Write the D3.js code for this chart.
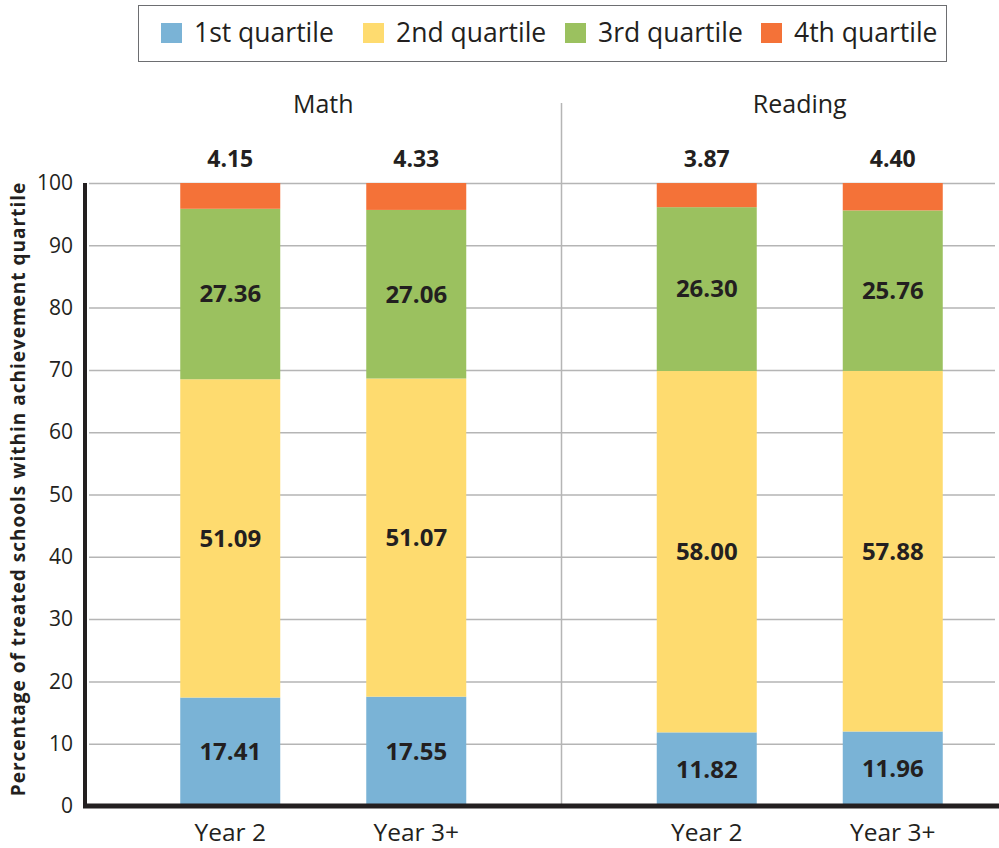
<!DOCTYPE html>
<html>
<head>
<meta charset="utf-8">
<script src="https://cdn.jsdelivr.net/npm/d3@7"></script>
<style>
  body { margin: 0; background: #fff; }
  text { font-family: "Open Sans", "Noto Sans", sans-serif; fill: #231f20; }
</style>
</head>
<body>
<svg id="chart"></svg>
<script>
// data
const subjects = ["Math", "Reading"];
const years = ["Year 2", "Year 3+"];
const quartiles = ["1st quartile", "2nd quartile", "3rd quartile", "4th quartile"];
const q1 = [17.41, 17.55, 11.82, 11.96];
const q2 = [51.09, 51.07, 58.00, 57.88];
const q3 = [27.36, 27.06, 26.30, 25.76];
const q4 = [4.15, 4.33, 3.87, 4.40];
const yTicks = [0, 10, 20, 30, 40, 50, 60, 70, 80, 90, 100];
const colors = ["#7ab3d6", "#fedb6f", "#9bc15f", "#f47238"];

// build rows: one per bar
const rows = [];
subjects.forEach((s, i) => {
  years.forEach((y, j) => {
    const k = i * 2 + j;
    rows.push({subject: s, year: y, "1st quartile": q1[k], "2nd quartile": q2[k], "3rd quartile": q3[k], "4th quartile": q4[k]});
  });
});

const W = 999, H = 848;
const margin = {top: 183, right: 0, bottom: 42, left: 85};

const svg = d3.select("#chart").attr("width", W).attr("height", H);

const x0 = d3.scaleBand().domain(subjects).range([margin.left, margin.left + 953]);
const x1 = d3.scaleBand().domain(years).range([-143, 143]).paddingInner(0.4624);
const y = d3.scaleLinear().domain([0, 100]).range([H - margin.bottom, margin.top]);

// gridlines + tick labels
const yAxis = d3.axisLeft(y).tickValues(yTicks).tickSize(-(W - margin.left - 4)).tickPadding(12);
const gy = svg.append("g")
  .attr("transform", `translate(${margin.left},0)`)
  .call(yAxis);
gy.select(".domain").remove();
gy.selectAll(".tick line").attr("stroke", "#b5b5b5").attr("stroke-width", 1.5).attr("x1", 4);
gy.selectAll(".tick text")
  .style("font-size", "21px")
  .attr("fill", "#231f20")
  .style("font-family", "\"Open Sans\", sans-serif");

// divider between groups
const divX = x0("Reading");
svg.append("line")
  .attr("x1", divX).attr("x2", divX)
  .attr("y1", 103).attr("y2", y(0))
  .attr("stroke", "#b5b5b5").attr("stroke-width", 1.5);

// stacked bars
const stack = d3.stack().keys(quartiles);
const series = stack(rows);
const color = d3.scaleOrdinal().domain(quartiles).range(colors);
const barX = d => x0(d.data.subject) + x0.bandwidth() / 2 + x1(d.data.year);

const layer = svg.append("g").selectAll("g")
  .data(series)
  .join("g")
  .attr("fill", d => color(d.key));

layer.selectAll("rect")
  .data(d => d)
  .join("rect")
  .attr("x", barX)
  .attr("width", x1.bandwidth())
  .attr("y", d => y(Math.min(d[1], 100)))
  .attr("height", d => y(d[0]) - y(Math.min(d[1], 100)));

// segment labels (quartiles 1-3)
series.slice(0, 3).forEach(s => {
  svg.append("g").selectAll("text")
    .data(s)
    .join("text")
    .attr("x", d => barX(d) + x1.bandwidth() / 2)
    .attr("y", d => y((d[0] + d[1]) / 2))
    .attr("dy", "0.35em")
    .attr("text-anchor", "middle")
    .style("font-size", "24px")
    .style("font-weight", "bold")
    .text(d => (d[1] - d[0]).toFixed(2));
});

// 4th quartile labels above bars
svg.append("g").selectAll("text")
  .data(series[3])
  .join("text")
  .attr("x", d => barX(d) + x1.bandwidth() / 2)
  .attr("y", y(100) - 16)
  .attr("text-anchor", "middle")
  .style("font-size", "23px")
  .style("font-weight", "bold")
  .text(d => (d[1] - d[0]).toFixed(2));

// axis lines (thick)
svg.append("line")
  .attr("x1", margin.left).attr("x2", margin.left)
  .attr("y1", y(100)).attr("y2", y(0) + 2)
  .attr("stroke", "#231f20").attr("stroke-width", 4);
svg.append("line")
  .attr("x1", margin.left - 2).attr("x2", W)
  .attr("y1", y(0)).attr("y2", y(0))
  .attr("stroke", "#231f20").attr("stroke-width", 5);

// x labels
svg.append("g").selectAll("text")
  .data(rows)
  .join("text")
  .attr("x", d => x0(d.subject) + x0.bandwidth() / 2 + x1(d.year) + x1.bandwidth() / 2)
  .attr("y", 841)
  .attr("text-anchor", "middle")
  .style("font-size", "24.5px")
  .text(d => d.year);

// group labels
svg.append("g").selectAll("text")
  .data(subjects)
  .join("text")
  .attr("x", d => x0(d) + x0.bandwidth() / 2)
  .attr("y", 113)
  .attr("text-anchor", "middle")
  .style("font-size", "25px")
  .text(d => d);

// y axis title
svg.append("text")
  .attr("transform", `translate(25, ${(170 + 808) / 2}) rotate(-90)`)
  .attr("text-anchor", "middle")
  .style("font-size", "19px")
  .style("font-weight", "bold")
  .style("letter-spacing", "1px")
  .text("Percentage of treated schools within achievement quartile");

// legend
const legend = svg.append("g");
legend.append("rect")
  .attr("x", 138.5).attr("y", 5.5).attr("width", 808).attr("height", 56)
  .attr("fill", "#fff").attr("stroke", "#6d6e71").attr("stroke-width", 1);
const legX = [161, 363, 565, 761];
const items = legend.selectAll("g.item")
  .data(quartiles)
  .join("g")
  .attr("class", "item")
  .attr("transform", (d, i) => `translate(${legX[i]},23)`);
items.append("rect")
  .attr("width", 21).attr("height", 20)
  .attr("fill", d => color(d));
items.append("text")
  .attr("x", 33).attr("y", 19)
  .style("font-size", "26.5px")
  .text(d => d);
</script>
</body>
</html>
